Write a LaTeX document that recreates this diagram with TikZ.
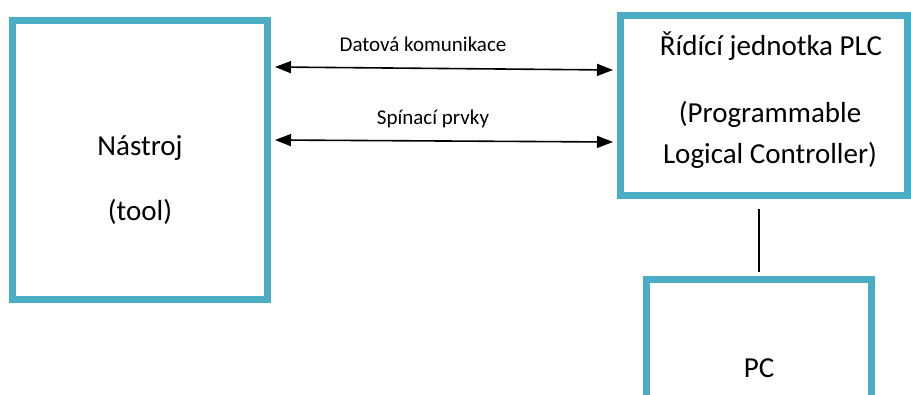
\documentclass[tikz,border=0pt]{standalone}
\usepackage{fontspec}
\setmainfont{Carlito}
\usetikzlibrary{arrows.meta}
\definecolor{boxblue}{HTML}{4BACC6}
\begin{document}
\begin{tikzpicture}[x=1pt,y=-1pt,
  blockbox/.style={draw=boxblue,line width=7pt,fill=white,inner sep=0pt},
  bigtext/.style={font=\fontsize{29}{34}\selectfont,anchor=base,inner sep=0pt},
  smalltext/.style={font=\fontsize{21}{25}\selectfont,anchor=base,inner sep=0pt},
  link/.style={line width=1.6pt,{Triangle[length=16pt,width=12pt]}-{Triangle[length=16pt,width=12pt]}}]
\useasboundingbox (0,0) rectangle (911,394);
\clip (0,0) rectangle (911,394);
\fill[white] (0,0) rectangle (911,394);
% boxes
\node[blockbox,minimum width=255pt,minimum height=279pt] (tool) at (140,160) {};
\node[blockbox,minimum width=287pt,minimum height=180pt] (plc) at (764,105.5) {};
\node[blockbox,minimum width=225pt,minimum height=177pt] (pc) at (759,368) {};
% texts
\node[bigtext] (toolA) at (140,155) {Nástroj};
\node[bigtext] (toolB) at (140,220) {(tool)};
\node[bigtext] (plcA) at (771,55) {Řídící jednotka PLC};
\node[bigtext] (plcB) at (770,122) {(Programmable};
\node[bigtext] (plcC) at (770,163) {Logical Controller)};
\node[bigtext] (pcA) at (759,377) {PC};
% connectors
\draw[link] ([xshift=4pt,yshift=-50pt]tool.north east) -- ([xshift=-4pt,yshift=-58pt]plc.north west);
\draw[link] ([xshift=4pt,yshift=-123pt]tool.north east) -- ([xshift=-4pt,yshift=-130pt]plc.north west);
\node[smalltext] (lab1) at (423,51) {Datová komunikace};
\node[smalltext] (lab2) at (433,124) {Spínací prvky};
\draw[line width=1.3pt] ([yshift=-10pt]plc.south -| pc.north) -- ([yshift=4pt]pc.north);
\end{tikzpicture}
\end{document}
